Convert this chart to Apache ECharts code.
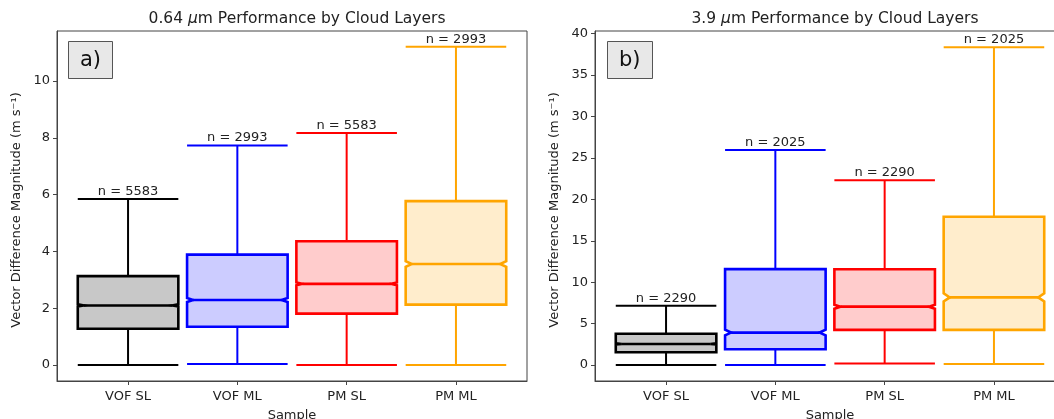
<!DOCTYPE html>
<html>
<head>
<meta charset="utf-8">
<title>Cloud layer box plots</title>
<script src="https://cdn.jsdelivr.net/npm/echarts@6/dist/echarts.min.js"></script>
<style>
  html, body { margin: 0; padding: 0; background: #fff; }
  #chart { width: 1054px; height: 419px; }
</style>
</head>
<body>
<div id="chart"></div>
<script>
const categories = ['VOF SL', 'VOF ML', 'PM SL', 'PM ML'];
const edgeColors = ['#000000', '#0000ff', '#ff0000', '#ffa500'];
const fillColors = ['#c8c8c8', '#ccccff', '#ffcccc', '#ffedcc'];

// panel a (0.64 um): [low whisker, q1, median, q3, high whisker]
const statsA = [
  [0.00, 1.28, 2.10, 3.13, 5.85],
  [0.04, 1.35, 2.29, 3.89, 7.73],
  [0.00, 1.81, 2.86, 4.36, 8.17],
  [0.00, 2.13, 3.56, 5.77, 11.21]
];
const notchA = [0.04, 0.07, 0.05, 0.10];
const countsA = [5583, 2993, 5583, 2993];
const yTicksA = [0, 2, 4, 6, 8, 10];

// panel b (3.9 um)
const statsB = [
  [0.00, 1.55, 2.55, 3.78, 7.15],
  [0.00, 1.92, 3.92, 11.58, 25.95],
  [0.20, 4.25, 7.05, 11.56, 22.30],
  [0.14, 4.25, 8.17, 17.90, 38.35]
];
const notchB = [0.07, 0.34, 0.24, 0.48];
const countsB = [2290, 2025, 2290, 2025];
const yTicksB = [0, 5, 10, 15, 20, 25, 30, 35, 40];

const FONT = 'DejaVu Sans';
const boxWidth = 0.92;
const notchInset = 0.06;

function toData(stats, notch, counts) {
  return stats.map((s, i) => [i].concat(s, [notch[i], counts[i]]));
}

function renderBox(params, api) {
  const i = api.value(0);
  const color = edgeColors[params.dataIndex];
  const fill = fillColors[params.dataIndex];
  const yLow = api.coord([i, api.value(1)])[1];
  const yQ1 = api.coord([i, api.value(2)])[1];
  const pMed = api.coord([i, api.value(3)]);
  const yQ3 = api.coord([i, api.value(4)])[1];
  const yHigh = api.coord([i, api.value(5)])[1];
  const ciLo = api.coord([i, api.value(3) - api.value(6)])[1];
  const ciHi = api.coord([i, api.value(3) + api.value(6)])[1];
  const half = api.size([boxWidth, 0])[0] / 2;
  const cx = pMed[0], yMed = pMed[1];
  const l = cx - half, r = cx + half;
  const ins = half * 2 * notchInset;
  const thin = { stroke: color, lineWidth: 2 };
  return {
    type: 'group',
    children: [
      { type: 'line', shape: { x1: cx, y1: yQ1, x2: cx, y2: yLow }, style: thin },
      { type: 'line', shape: { x1: cx, y1: yQ3, x2: cx, y2: yHigh }, style: thin },
      { type: 'line', shape: { x1: l, y1: yLow, x2: r, y2: yLow }, style: thin },
      { type: 'line', shape: { x1: l, y1: yHigh, x2: r, y2: yHigh }, style: thin },
      {
        type: 'polygon',
        shape: { points: [
          [l, yQ1], [r, yQ1], [r, ciLo], [r - ins, yMed], [r, ciHi], [r, yQ3],
          [l, yQ3], [l, ciHi], [l + ins, yMed], [l, ciLo]
        ] },
        style: { fill: fill, stroke: color, lineWidth: 2.6, lineJoin: 'miter' }
      },
      { type: 'line', shape: { x1: l + ins, y1: yMed, x2: r - ins, y2: yMed }, style: { stroke: color, lineWidth: 2.6 } },
      {
        type: 'text', x: cx, y: yHigh - 1,
        style: { text: 'n = ' + api.value(7), align: 'center', verticalAlign: 'bottom',
                 fontSize: 13, fontFamily: FONT, fill: '#222' }
      }
    ]
  };
}

function xAxis(gridIndex) {
  return {
    type: 'value', gridIndex: gridIndex, min: -0.65, max: 3.65,
    name: 'Sample', nameLocation: 'middle', nameGap: 28,
    nameTextStyle: { fontFamily: FONT, fontSize: 13, color: '#222' },
    axisLine: { show: true, onZero: false, lineStyle: { color: '#444', width: 1 } },
    axisTick: { show: true, length: 4, customValues: [0, 1, 2, 3], lineStyle: { color: '#444' } },
    axisLabel: { customValues: [0, 1, 2, 3], formatter: v => categories[v], margin: 9,
                 fontFamily: FONT, fontSize: 13, color: '#222' },
    splitLine: { show: false }
  };
}

function yAxis(gridIndex, min, max, ticks, gap) {
  return {
    type: 'value', gridIndex: gridIndex, min: min, max: max,
    name: 'Vector Difference Magnitude (m s\u207B\u00B9)', nameLocation: 'middle', nameRotate: 90, nameGap: gap,
    nameTextStyle: { fontFamily: FONT, fontSize: 13, color: '#222', padding: [0, 8, 0, 0] },
    axisLine: { show: true, onZero: false, lineStyle: { color: '#444', width: 1 } },
    axisTick: { show: true, length: 4, customValues: ticks, lineStyle: { color: '#444' } },
    axisLabel: { customValues: ticks, margin: 7, fontFamily: FONT, fontSize: 13, color: '#222' },
    splitLine: { show: false }
  };
}

function panelTitle(text, x) {
  return {
    text: text, left: x, top: 6, textAlign: 'center',
    textStyle: { fontFamily: FONT, fontSize: 15.5, fontWeight: 'normal', color: '#222',
                 rich: { i: { fontFamily: FONT, fontSize: 15.5, fontStyle: 'italic', color: '#222' } } }
  };
}

function panelTag(text, x) {
  return {
    text: text, left: x, top: 41, padding: [9, 12, 8, 12],
    backgroundColor: '#e8e8e8', borderColor: '#555', borderWidth: 1,
    textStyle: { fontFamily: FONT, fontSize: 21, fontWeight: 'normal', color: '#111' }
  };
}

const chart = echarts.init(document.getElementById('chart'), null, { renderer: 'canvas' });
chart.setOption({
  backgroundColor: '#fff',
  animation: false,
  title: [
    panelTitle('0.64 {i|\u03BC}m Performance by Cloud Layers', 292),
    panelTitle('3.9 {i|\u03BC}m Performance by Cloud Layers', 830),
    panelTag('a)', 68),
    panelTag('b)', 607)
  ],
  grid: [
    { left: 57, top: 31, width: 470, height: 350, show: true, borderColor: '#444', borderWidth: 1,
      outerBoundsMode: 'none' },
    { left: 595, top: 31, width: 470, height: 350, show: true, borderColor: '#444', borderWidth: 1,
      outerBoundsMode: 'none' }
  ],
  xAxis: [xAxis(0), xAxis(1)],
  yAxis: [yAxis(0, -0.56, 11.76, yTicksA, 34), yAxis(1, -1.92, 40.32, yTicksB, 34)],
  series: [
    { type: 'custom', xAxisIndex: 0, yAxisIndex: 0, renderItem: renderBox,
      encode: { x: 0, y: [1, 2, 3, 4, 5] }, data: toData(statsA, notchA, countsA) },
    { type: 'custom', xAxisIndex: 1, yAxisIndex: 1, renderItem: renderBox,
      encode: { x: 0, y: [1, 2, 3, 4, 5] }, data: toData(statsB, notchB, countsB) }
  ]
});
</script>
</body>
</html>
